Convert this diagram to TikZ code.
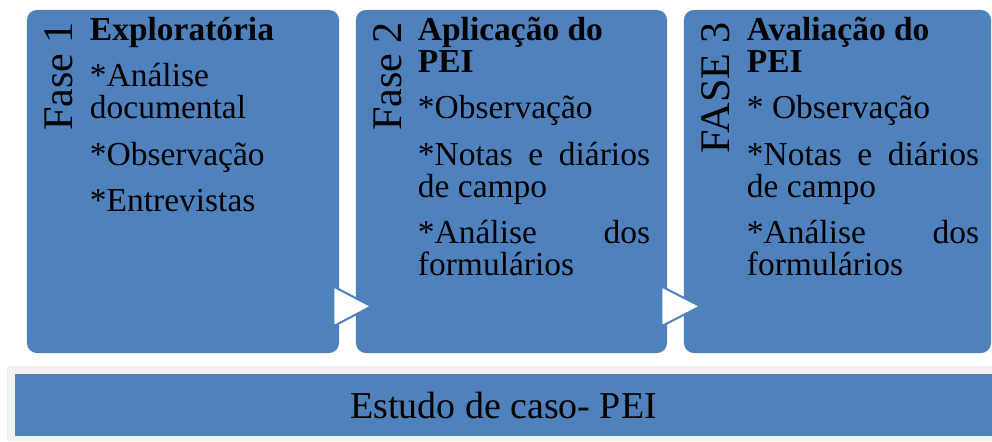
\documentclass[tikz,border=0pt]{standalone}
\usepackage{fontspec}
\setmainfont{Liberation Serif}
\usepackage{xcolor}
\usepackage{tikz}
\usetikzlibrary{positioning}

\definecolor{faseblue}{HTML}{4F81BD}
\definecolor{bandgray}{HTML}{F2F2F2}

% no hyphens, fixed line distance
\newcommand{\phasesetup}{\lineskiplimit=-50pt\relax\parindent=0pt\relax
  \hyphenpenalty=10000\relax\exhyphenpenalty=10000\relax\tolerance=9999\relax}
% heading line of a phase, then the gap before the items
\newcommand{\phasehead}[1]{{\raggedright\bfseries\vrule height 20pt width 0pt\relax #1\par}\vspace{10.3pt}}
\newcommand{\itemskip}{\par\vspace{10.3pt}}

\begin{document}
\begin{tikzpicture}[
  x=0.025cm, y=-0.025cm,
  phasebox/.style={
    fill=faseblue,
    rounded corners=0.25cm,
    minimum width=7.8cm,
    minimum height=8.575cm,
    inner sep=0pt
  },
  phasetext/.style={
    anchor=north west,
    inner sep=0pt,
    text width=5.8cm,
    align=justify,
    font=\fontsize{23.8}{22.76}\selectfont
  },
  phaselabel/.style={
    rotate=90,
    anchor=base east,
    inner sep=0pt,
    font=\fontsize{30}{36}\selectfont
  },
  steptri/.style={
    fill=white,
    draw=faseblue,
    line width=0.05cm,
    line join=miter
  },
  basebar/.style={
    fill=faseblue,
    minimum width=24.425cm,
    minimum height=1.55cm,
    inner sep=0pt,
    text height=24pt,
    text depth=5.5pt,
    font=\fontsize{27}{32}\selectfont
  }
]

\useasboundingbox (0,0) rectangle (992,441);

% -------------------------------------------------------------------
% the three phases
% -------------------------------------------------------------------
\node[phasebox] (f1) at (183,181.5) {};
\node[phasebox, minimum width=7.775cm] (f2) at (511.5,181.5) {};
\node[phasebox, minimum width=7.675cm] (f3) at (837.5,181.5) {};

\node[phaselabel] (l1) at ([shift={(46,12)}]f1.north west) {Fase 1};
\node[phaselabel] (l2) at ([shift={(46,12)}]f2.north west) {Fase 2};
\node[phaselabel] (l3) at ([shift={(46,12)}]f3.north west) {FASE 3};

\node[phasetext] (t1) at ([shift={(63,2)}]f1.north west)
{
  \phasesetup
  \phasehead{Exploratória}
  *Análise documental\itemskip
  *Observação\itemskip
  *Entrevistas\par
};

\node[phasetext] (t2) at ([shift={(62,2)}]f2.north west)
{
  \phasesetup
  \phasehead{Aplicação do PEI}
  *Observação\itemskip
  *Notas e diários de campo\itemskip
  *Análise dos formulários\par
};

\node[phasetext] (t3) at ([shift={(63,2)}]f3.north west)
{
  \phasesetup
  \phasehead{Avaliação do PEI}
  * Observação\itemskip
  *Notas e diários de campo\itemskip
  *Análise dos formulários\par
};

% arrows between the phases
\filldraw[steptri] ([shift={(-6,-67)}]f1.south east) -- ([shift={(-6,-27)}]f1.south east)
  -- ([shift={(32,-47)}]f1.south east) -- cycle;
\filldraw[steptri] ([shift={(-6,-67)}]f2.south east) -- ([shift={(-6,-27)}]f2.south east)
  -- ([shift={(33,-47)}]f2.south east) -- cycle;

% -------------------------------------------------------------------
% base
% -------------------------------------------------------------------
\fill[bandgray] (7,366) rectangle (992,441);
\node[basebar] (caso) at (503.5,405) {Estudo de caso- PEI};

\end{tikzpicture}
\end{document}
